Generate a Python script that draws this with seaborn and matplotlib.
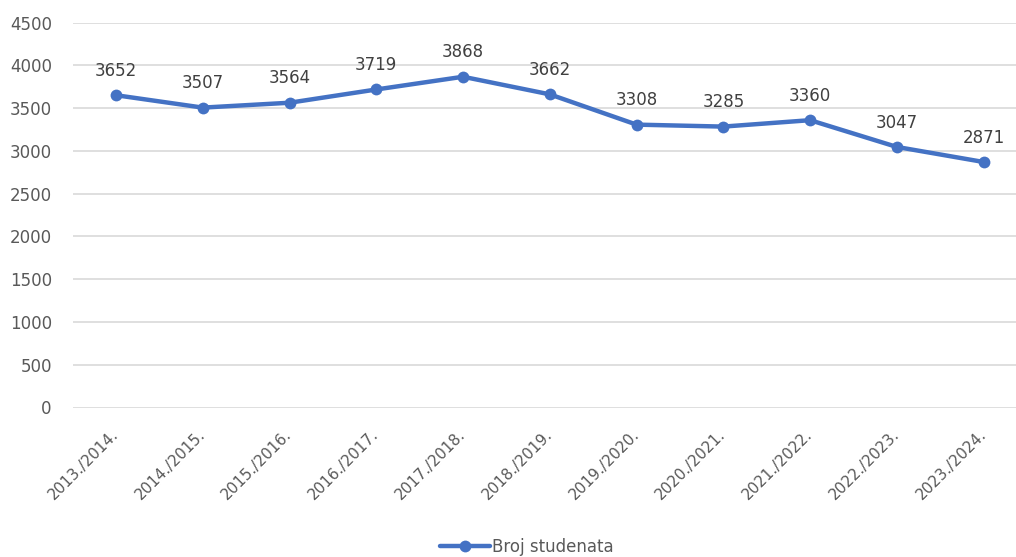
import matplotlib
matplotlib.use("Agg")
import matplotlib.pyplot as plt
import seaborn as sns
import pandas as pd

years = ["2013./2014.", "2014./2015.", "2015./2016.", "2016./2017.", "2017./2018.",
         "2018./2019.", "2019./2020.", "2020./2021.", "2021./2022.", "2022./2023.", "2023./2024."]
students = [3652, 3507, 3564, 3719, 3868, 3662, 3308, 3285, 3360, 3047, 2871]
series_name = "Broj studenata"
yticks = [0, 500, 1000, 1500, 2000, 2500, 3000, 3500, 4000, 4500]

sns.set_theme(style="white")
plt.rcParams['font.family'] = ['Liberation Sans Narrow', 'DejaVu Sans']

df = pd.DataFrame({"year": years, "value": students})
df["x"] = range(len(years))

fig = plt.figure(figsize=(10.16, 5.57), dpi=100)
W, H = 1016, 557
left, right, top, bottom = 72.6, 1027, 22.7, 407.5
ax = fig.add_axes([left / W, 1 - bottom / H, (right - left) / W, (bottom - top) / H])

color = "#4472C4"
sns.lineplot(data=df, x="x", y="value", ax=ax, color=color, linewidth=3.2,
             marker="o", markersize=8.5, markeredgewidth=0, label=series_name)

for xi, v in zip(df["x"], df["value"]):
    ax.annotate(str(v), (xi, v), xytext=(0, 11), textcoords="offset points",
                ha="center", va="bottom", fontsize=12, color="#404040")

ax.set_xlim(-0.5, len(years) - 0.5)
ax.set_ylim(0, 4500)
ax.set_yticks(yticks)
ax.set_yticklabels([str(t) for t in yticks], fontsize=12, color="#595959")
ax.set_xticks(df["x"])
ax.set_xticklabels(years, rotation=45, ha="right", va="center", rotation_mode="anchor",
                   fontsize=11, color="#595959")
ax.tick_params(axis="y", length=0, pad=15)
ax.tick_params(axis="x", length=0, pad=18)
ax.grid(axis="y", color="#d9d9d9", linewidth=1.2)
ax.set_axisbelow(True)
for s in ax.spines.values():
    s.set_visible(False)
ax.set_xlabel("")
ax.set_ylabel("")

leg = ax.legend(loc="center", bbox_to_anchor=((527 - left) / (right - left), -(547 - bottom) / (bottom - top)),
                frameon=False, fontsize=12, handlelength=3, handletextpad=0.1)
for t in leg.get_texts():
    t.set_color("#595959")

fig.savefig("out.png", dpi=100)
